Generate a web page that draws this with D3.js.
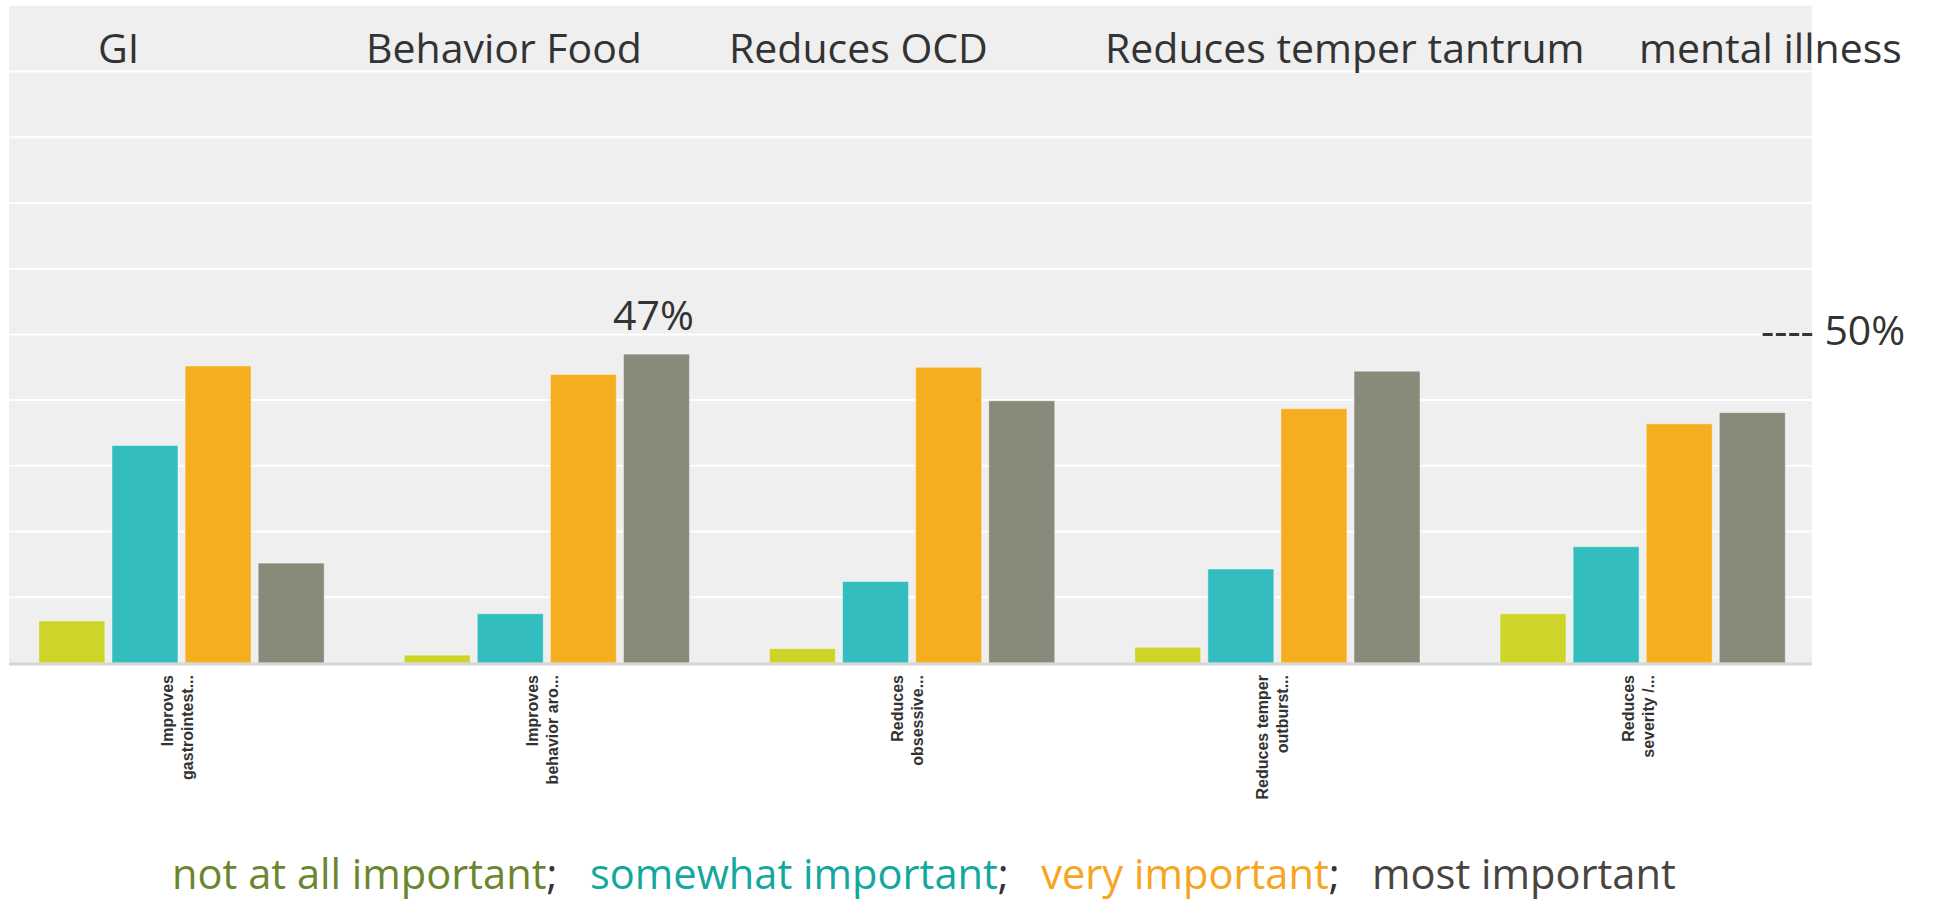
<!doctype html>
<html lang="en">
<head>
  <meta charset="UTF-8">
  <title>Importance by outcome</title>
  <script src="https://cdnjs.cloudflare.com/ajax/libs/d3/7.8.5/d3.min.js"></script>
  <style>
    body { margin: 0; background: #fff; }
    svg text { font-family: "Open Sans", sans-serif; }
    .cat text { font-family: "Liberation Sans", Arial, sans-serif; font-weight: bold; font-size: 16px; fill: #333; }
  </style>
</head>
<body>
<div id="chart"></div>
<script>
// categories (axis labels are truncated in two lines, as in the source)
var categories = ["gi", "behavior", "ocd", "temper", "severity"];
var catLines = [
  ["Improves", "gastrointest..."],
  ["Improves", "behavior aro..."],
  ["Reduces", "obsessive..."],
  ["Reduces temper", "outburst..."],
  ["Reduces", "severity /..."]
];
var titles = ["GI", "Behavior Food", "Reduces OCD", "Reduces temper tantrum", "mental illness"];
var titleX = [98, 366, 729, 1105, 1639];

var seriesNames = ["not at all important", "somewhat important", "very important", "most important"];
// percent of respondents
var notAtAll = [6.4, 1.2, 2.2, 2.4, 7.5];
var somewhat = [33.1, 7.5, 12.4, 14.3, 17.7];
var very     = [45.2, 43.9, 45.0, 38.7, 36.4];
var most     = [15.2, 47.0, 39.9, 44.4, 38.1];
var gridTicks = [10, 20, 30, 40, 50, 60, 70, 80, 90];

var barColors = ["#cdd52b", "#34bdbf", "#f5ae20", "#8a8a7a"];
var legendColors = ["#6a862f", "#13a89e", "#f7a520", "#4a4440"];

var width = 1936, height = 901;
var values = [notAtAll, somewhat, very, most];

var svg = d3.select("#chart").append("svg")
    .attr("width", width)
    .attr("height", height);

var x0 = d3.scaleBand()
    .domain(categories)
    .range([-1.3, 1825.5])
    .paddingInner(0.219)
    .paddingOuter(0.11);

var x1 = d3.scaleBand()
    .domain(d3.range(seriesNames.length))
    .range([0, x0.bandwidth()])
    .paddingInner(0.097)
    .paddingOuter(0);

var y = d3.scaleLinear()
    .domain([0, 90])
    .range([663, 71.5]);

// plot background
svg.append("rect")
    .attr("x", 9)
    .attr("y", y(100))
    .attr("width", 1812 - 9)
    .attr("height", y(0) - y(100))
    .attr("fill", "#efefef");

// gridlines
svg.append("g").selectAll("line")
    .data(gridTicks)
  .enter().append("line")
    .attr("x1", 9)
    .attr("x2", 1812)
    .attr("y1", function(d) { return y(d); })
    .attr("y2", function(d) { return y(d); })
    .attr("stroke", "#fff")
    .attr("stroke-width", 2);

// bars
var groups = svg.append("g").selectAll("g")
    .data(categories)
  .enter().append("g")
    .attr("transform", function(d) { return "translate(" + x0(d) + ",0)"; });

groups.selectAll("rect")
    .data(function(d, i) {
      return values.map(function(s, j) { return {s: j, v: s[i]}; });
    })
  .enter().append("rect")
    .attr("x", function(d) { return x1(d.s); })
    .attr("width", x1.bandwidth())
    .attr("y", function(d) { return y(d.v); })
    .attr("height", function(d) { return y(0) - y(d.v); })
    .attr("fill", function(d) { return barColors[d.s]; })
    .attr("stroke", "rgba(255,255,255,0.45)")
    .attr("stroke-width", 1);

// baseline
svg.append("line")
    .attr("x1", 9).attr("x2", 1812)
    .attr("y1", y(0) + 1).attr("y2", y(0) + 1)
    .attr("stroke", "#d6d6d6")
    .attr("stroke-width", 3);

// category labels, rotated
var cat = svg.append("g").attr("class", "cat").selectAll("text")
    .data(categories)
  .enter().append("text")
    .attr("text-anchor", "end")
    .attr("transform", function(d) {
      return "translate(" + (x0(d) + x0.bandwidth() / 2) + ",675) rotate(-90)";
    });
cat.each(function(d, i) {
  var t = d3.select(this);
  catLines[i].forEach(function(line, k) {
    t.append("tspan").attr("x", 0).attr("y", k === 0 ? -9 : 11).text(line);
  });
});

// titles on top
svg.append("g").selectAll("text")
    .data(titles)
  .enter().append("text")
    .attr("x", function(d, i) { return titleX[i]; })
    .attr("y", 63)
    .attr("font-size", 41)
    .attr("fill", "#333")
    .text(function(d) { return d; });

// max value annotation
var maxI = d3.maxIndex(most);
svg.append("text")
    .attr("x", x0(categories[maxI]) + x1(3) + x1.bandwidth() / 2 - 3)
    .attr("y", y(most[maxI]) - 24)
    .attr("text-anchor", "middle")
    .attr("font-size", 41)
    .attr("fill", "#333")
    .text(d3.format(".0f")(most[maxI]) + "%");

// 50% marker
svg.append("text")
    .attr("x", 1761)
    .attr("y", y(50) + 11)
    .attr("font-size", 41)
    .attr("fill", "#333")
    .text("---- 50%");

// legend
var legend = svg.append("text")
    .attr("x", 172)
    .attr("y", 889)
    .attr("font-size", 41.6)
    .style("white-space", "pre");
seriesNames.forEach(function(name, i) {
  legend.append("tspan").attr("fill", legendColors[i]).text(name);
  if (i < seriesNames.length - 1) {
    legend.append("tspan").attr("fill", "#333").text(";   ");
  }
});
</script>
</body>
</html>
